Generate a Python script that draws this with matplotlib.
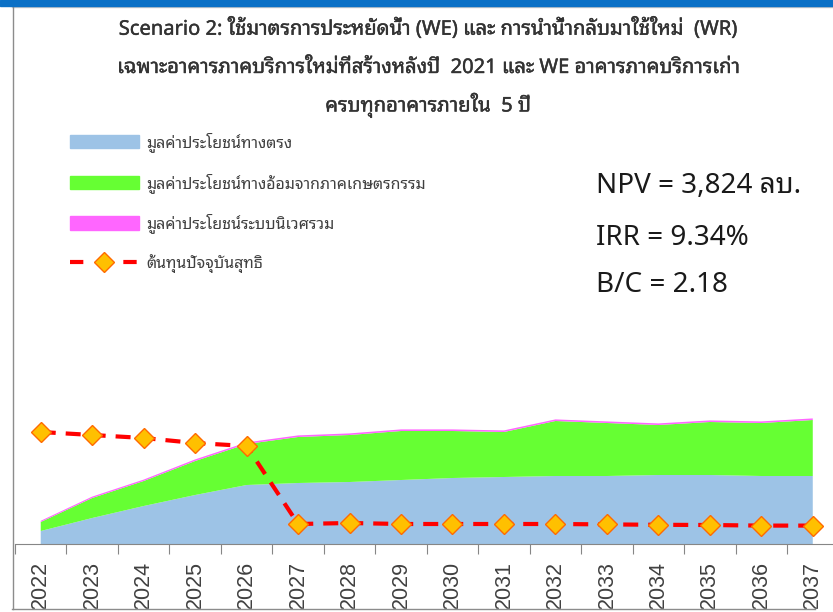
import numpy as np
import matplotlib
matplotlib.use('Agg')
import matplotlib.pyplot as plt
import matplotlib.patheffects as pe
from matplotlib.patches import Rectangle, Patch
from matplotlib.lines import Line2D

# ปี และมูลค่า (ล้านบาท, ค่าประมาณ)
years = [str(y) for y in range(2022, 2038)]
direct_benefit = [65, 130, 190, 245, 295, 305, 310, 320, 330, 335, 340, 340, 345, 345, 340, 340]
indirect_agri = [45, 100, 125, 170, 205, 230, 235, 245, 235, 225, 275, 265, 250, 265, 265, 280]
ecosystem = [6, 7, 7, 8, 8, 8, 8, 8, 8, 8, 8, 8, 8, 8, 8, 8]
net_cost = [560, 545, 530, 505, 490, 100, 105, 100, 100, 100, 100, 98, 96, 95, 92, 92]

labels = ['มูลค่าประโยชน์ทางตรง',
          'มูลค่าประโยชน์ทางอ้อมจากภาคเกษตรกรรม',
          'มูลค่าประโยชน์ระบบนิเวศรวม',
          'ต้นทุนปัจจุบันสุทธิ']
title_lines = ['Scenario 2: ใช้มาตรการประหยัดน้ำ (WE) และ การนำน้ำกลับมาใช้ใหม่  (WR)',
               'เฉพาะอาคารภาคบริการใหม่ที่สร้างหลังปี  2021 และ WE อาคารภาคบริการเก่า',
               'ครบทุกอาคารภายใน  5 ปี']
stats = ['NPV = 3,824 ลบ.', 'IRR = 9.34%', 'B/C = 2.18']

thai = ['Noto Sans Thai Looped', 'Noto Sans', 'DejaVu Sans']
W, H = 833, 612

fig = plt.figure(figsize=(W / 100, H / 100), dpi=100)
ax = fig.add_axes([15 / W, 68 / H, 823.5 / W, 424 / H])

x = np.arange(len(years))
polys = ax.stackplot(x, direct_benefit, indirect_agri, ecosystem,
                     colors=['#9dc3e6', '#66ff33', '#ff66ff'], linewidth=0)
ax.plot(x, net_cost, color='#ff0000', lw=3, dashes=(3.6, 2.4),
        marker='D', ms=10, mfc='#ffc000', mec='#ff6a00', mew=1, zorder=5)

ax.set_xlim(-0.5, 15.5)
ax.set_ylim(0, 2120)
for s in ['left', 'right', 'top']:
    ax.spines[s].set_visible(False)
ax.spines['bottom'].set_color('#868686')
ax.set_yticks([])
ax.set_xticks(np.arange(-0.5, 16, 1))
ax.set_xticklabels([])
ax.tick_params(axis='x', which='major', length=7.2, color='#868686', direction='out')
ax.set_xticks(x, minor=True)
ax.set_xticklabels(years, minor=True, rotation=90, fontsize=15.5,
                   family='Liberation Sans', color='#404040')
ax.tick_params(axis='x', which='minor', length=0, pad=12.5)
for t in ax.get_xticklabels(minor=True):
    t.set_verticalalignment('top')

# คำอธิบายสัญลักษณ์
handles = [Patch(color='#9dc3e6'), Patch(color='#66ff33'), Patch(color='#ff66ff'),
           Line2D([], [], color='#ff0000', lw=3, dashes=(3.2, 3.2), marker='D', ms=10,
                  mfc='#ffc000', mec='#ff6a00', mew=1)]
leg = fig.legend(handles, labels, loc='upper left', bbox_to_anchor=(70 / W, 1 - 132 / H),
                 frameon=False, handlelength=4.3, handleheight=0.9,
                 labelspacing=1.3, handletextpad=0.5, borderpad=0, borderaxespad=0,
                 numpoints=1, prop={'family': thai, 'size': 11.5})
for t in leg.get_texts():
    t.set_color('#404040')

# หัวเรื่อง (ไม่มีตัวหนา จึงใช้เส้นขอบบาง ๆ ช่วย)
for i, line in enumerate(title_lines):
    fig.text(428 / W, 1 - [28, 68, 105][i] / H, line, ha='center', va='center',
             fontsize=14.5, family=thai, color='#333333',
             path_effects=[pe.withStroke(linewidth=0.3, foreground='#333333')])

for i, s in enumerate(stats):
    fig.text(596 / W, 1 - [186, 238, 285][i] / H, s, ha='left', va='center',
             fontsize=20, family=thai, color='#1a1a1a')

# กรอบภาพ
fig.patches.append(Rectangle((0, 1 - 6 / H), 1, 6 / H, transform=fig.transFigure,
                             color='#0a70c6', zorder=10))
fig.lines.append(Line2D([12 / W, 1], [1 - 7 / H] * 2, transform=fig.transFigure,
                        color='#c8c8c8', lw=1, zorder=10))
fig.lines.append(Line2D([12.5 / W] * 2, [1 - 7 / H, 1 - 609 / H], transform=fig.transFigure,
                        color='#8c8c8c', lw=1, zorder=10))
fig.patches.append(Rectangle((0, 0), 1, 3 / H, transform=fig.transFigure,
                             color='white', zorder=9))
fig.lines.append(Line2D([12 / W, 815 / W], [1 - 609 / H] * 2, transform=fig.transFigure,
                        color='#8c8c8c', lw=1, zorder=10))

fig.savefig('out.png', dpi=100)
